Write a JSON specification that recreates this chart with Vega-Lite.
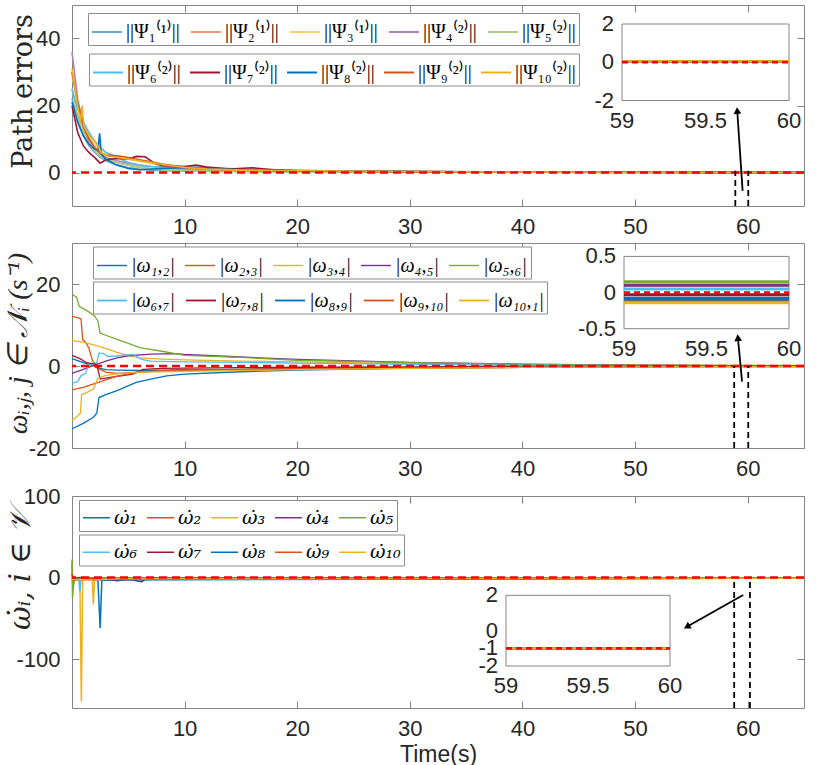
{
  "$schema": "https://vega.github.io/schema/vega-lite/v6.json",
  "background": "white",
  "padding": {"left": 3, "top": 4, "right": 5, "bottom": 0},
  "spacing": 4,
  "resolve": {"scale": {"color": "independent", "stroke": "independent"}, "legend": {"color": "independent", "stroke": "independent"}},
  "config": {
    "view": {"stroke": "#858585", "strokeWidth": 1},
    "axis": {"labelFont": "Liberation Sans", "labelFontSize": 22, "labelColor": "#262626", "tickColor": "#858585", "domain": false, "grid": false, "titleFont": "DejaVu Serif", "titleFontWeight": "normal", "titleColor": "#262626", "labelFlush": false, "labelOverlap": false},
    "text": {"font": "Liberation Sans", "fontSize": 22, "color": "#262626"},
    "legend": {"orient": "none", "columns": 5, "direction": "horizontal", "title": null, "symbolType": "stroke", "symbolSize": 900, "labelFont": "Liberation Serif", "labelFontSize": 20, "labelColor": "black", "labelOffset": 3, "columnPadding": 5, "rowPadding": 14, "padding": 3, "strokeColor": "#8c8c8c", "fillColor": "white"}
  },
  "datasets": {
    "A": [
      {"s":"||Ψ₁⁽¹⁾||","t":0,"v":22},{"s":"||Ψ₁⁽¹⁾||","t":0.5,"v":16},{"s":"||Ψ₁⁽¹⁾||","t":1,"v":11},{"s":"||Ψ₁⁽¹⁾||","t":1.5,"v":8},{"s":"||Ψ₁⁽¹⁾||","t":2,"v":6},{"s":"||Ψ₁⁽¹⁾||","t":2.5,"v":4.5},{"s":"||Ψ₁⁽¹⁾||","t":3,"v":3.5},{"s":"||Ψ₁⁽¹⁾||","t":4,"v":2.2},{"s":"||Ψ₁⁽¹⁾||","t":5,"v":1.5},{"s":"||Ψ₁⁽¹⁾||","t":6,"v":1.0},{"s":"||Ψ₁⁽¹⁾||","t":7,"v":0.7},{"s":"||Ψ₁⁽¹⁾||","t":8,"v":0.5},{"s":"||Ψ₁⁽¹⁾||","t":10,"v":0.4},{"s":"||Ψ₁⁽¹⁾||","t":12,"v":0.3},{"s":"||Ψ₁⁽¹⁾||","t":15,"v":0.25},{"s":"||Ψ₁⁽¹⁾||","t":20,"v":0.2},{"s":"||Ψ₁⁽¹⁾||","t":30,"v":0.1},{"s":"||Ψ₁⁽¹⁾||","t":40,"v":0.08},{"s":"||Ψ₁⁽¹⁾||","t":50,"v":0.05},{"s":"||Ψ₁⁽¹⁾||","t":59,"v":0.05},{"s":"||Ψ₁⁽¹⁾||","t":60,"v":0.05},{"s":"||Ψ₁⁽¹⁾||","t":65,"v":0.05},
      {"s":"||Ψ₂⁽¹⁾||","t":0,"v":30},{"s":"||Ψ₂⁽¹⁾||","t":0.5,"v":20},{"s":"||Ψ₂⁽¹⁾||","t":1,"v":13},{"s":"||Ψ₂⁽¹⁾||","t":1.5,"v":9},{"s":"||Ψ₂⁽¹⁾||","t":2,"v":6.5},{"s":"||Ψ₂⁽¹⁾||","t":2.5,"v":5},{"s":"||Ψ₂⁽¹⁾||","t":3,"v":4},{"s":"||Ψ₂⁽¹⁾||","t":4,"v":3},{"s":"||Ψ₂⁽¹⁾||","t":5,"v":2.2},{"s":"||Ψ₂⁽¹⁾||","t":6,"v":1.6},{"s":"||Ψ₂⁽¹⁾||","t":7,"v":1.2},{"s":"||Ψ₂⁽¹⁾||","t":8,"v":1.0},{"s":"||Ψ₂⁽¹⁾||","t":10,"v":0.8},{"s":"||Ψ₂⁽¹⁾||","t":12,"v":0.6},{"s":"||Ψ₂⁽¹⁾||","t":15,"v":0.5},{"s":"||Ψ₂⁽¹⁾||","t":20,"v":0.4},{"s":"||Ψ₂⁽¹⁾||","t":30,"v":0.25},{"s":"||Ψ₂⁽¹⁾||","t":40,"v":0.15},{"s":"||Ψ₂⁽¹⁾||","t":50,"v":0.08},{"s":"||Ψ₂⁽¹⁾||","t":59,"v":0.05},{"s":"||Ψ₂⁽¹⁾||","t":60,"v":0.05},{"s":"||Ψ₂⁽¹⁾||","t":65,"v":0.05},
      {"s":"||Ψ₃⁽¹⁾||","t":0,"v":29},{"s":"||Ψ₃⁽¹⁾||","t":0.5,"v":21},{"s":"||Ψ₃⁽¹⁾||","t":1,"v":15},{"s":"||Ψ₃⁽¹⁾||","t":1.5,"v":11},{"s":"||Ψ₃⁽¹⁾||","t":2,"v":8.5},{"s":"||Ψ₃⁽¹⁾||","t":2.5,"v":7},{"s":"||Ψ₃⁽¹⁾||","t":3,"v":6},{"s":"||Ψ₃⁽¹⁾||","t":4,"v":4.8},{"s":"||Ψ₃⁽¹⁾||","t":5,"v":4},{"s":"||Ψ₃⁽¹⁾||","t":6,"v":3.3},{"s":"||Ψ₃⁽¹⁾||","t":7,"v":2.6},{"s":"||Ψ₃⁽¹⁾||","t":8,"v":2.0},{"s":"||Ψ₃⁽¹⁾||","t":10,"v":1.3},{"s":"||Ψ₃⁽¹⁾||","t":12,"v":0.9},{"s":"||Ψ₃⁽¹⁾||","t":15,"v":0.6},{"s":"||Ψ₃⁽¹⁾||","t":20,"v":0.4},{"s":"||Ψ₃⁽¹⁾||","t":30,"v":0.25},{"s":"||Ψ₃⁽¹⁾||","t":40,"v":0.15},{"s":"||Ψ₃⁽¹⁾||","t":50,"v":0.08},{"s":"||Ψ₃⁽¹⁾||","t":59,"v":0.05},{"s":"||Ψ₃⁽¹⁾||","t":60,"v":0.05},{"s":"||Ψ₃⁽¹⁾||","t":65,"v":0.05},
      {"s":"||Ψ₄⁽²⁾||","t":0,"v":36},{"s":"||Ψ₄⁽²⁾||","t":0.5,"v":22},{"s":"||Ψ₄⁽²⁾||","t":1,"v":14},{"s":"||Ψ₄⁽²⁾||","t":1.5,"v":10},{"s":"||Ψ₄⁽²⁾||","t":2,"v":7.5},{"s":"||Ψ₄⁽²⁾||","t":2.5,"v":5.5},{"s":"||Ψ₄⁽²⁾||","t":3,"v":4.5},{"s":"||Ψ₄⁽²⁾||","t":4,"v":3.5},{"s":"||Ψ₄⁽²⁾||","t":5,"v":2.8},{"s":"||Ψ₄⁽²⁾||","t":6,"v":2.2},{"s":"||Ψ₄⁽²⁾||","t":7,"v":1.8},{"s":"||Ψ₄⁽²⁾||","t":8,"v":1.5},{"s":"||Ψ₄⁽²⁾||","t":10,"v":1.1},{"s":"||Ψ₄⁽²⁾||","t":12,"v":0.8},{"s":"||Ψ₄⁽²⁾||","t":15,"v":0.6},{"s":"||Ψ₄⁽²⁾||","t":20,"v":0.5},{"s":"||Ψ₄⁽²⁾||","t":30,"v":0.3},{"s":"||Ψ₄⁽²⁾||","t":40,"v":0.2},{"s":"||Ψ₄⁽²⁾||","t":50,"v":0.1},{"s":"||Ψ₄⁽²⁾||","t":59,"v":0.05},{"s":"||Ψ₄⁽²⁾||","t":60,"v":0.05},{"s":"||Ψ₄⁽²⁾||","t":65,"v":0.05},
      {"s":"||Ψ₅⁽²⁾||","t":0,"v":25},{"s":"||Ψ₅⁽²⁾||","t":0.5,"v":17},{"s":"||Ψ₅⁽²⁾||","t":1,"v":12},{"s":"||Ψ₅⁽²⁾||","t":1.5,"v":8.5},{"s":"||Ψ₅⁽²⁾||","t":2,"v":6.5},{"s":"||Ψ₅⁽²⁾||","t":2.5,"v":5},{"s":"||Ψ₅⁽²⁾||","t":3,"v":4},{"s":"||Ψ₅⁽²⁾||","t":4,"v":3},{"s":"||Ψ₅⁽²⁾||","t":5,"v":2.2},{"s":"||Ψ₅⁽²⁾||","t":6,"v":1.6},{"s":"||Ψ₅⁽²⁾||","t":7,"v":1.1},{"s":"||Ψ₅⁽²⁾||","t":8,"v":0.8},{"s":"||Ψ₅⁽²⁾||","t":10,"v":0.5},{"s":"||Ψ₅⁽²⁾||","t":12,"v":0.35},{"s":"||Ψ₅⁽²⁾||","t":15,"v":0.25},{"s":"||Ψ₅⁽²⁾||","t":20,"v":0.2},{"s":"||Ψ₅⁽²⁾||","t":30,"v":0.1},{"s":"||Ψ₅⁽²⁾||","t":40,"v":0.08},{"s":"||Ψ₅⁽²⁾||","t":50,"v":0.05},{"s":"||Ψ₅⁽²⁾||","t":59,"v":0.05},{"s":"||Ψ₅⁽²⁾||","t":60,"v":0.05},{"s":"||Ψ₅⁽²⁾||","t":65,"v":0.05},
      {"s":"||Ψ₆⁽²⁾||","t":0,"v":25},{"s":"||Ψ₆⁽²⁾||","t":0.5,"v":19},{"s":"||Ψ₆⁽²⁾||","t":1,"v":15},{"s":"||Ψ₆⁽²⁾||","t":1.5,"v":12},{"s":"||Ψ₆⁽²⁾||","t":2,"v":9.5},{"s":"||Ψ₆⁽²⁾||","t":2.5,"v":7.5},{"s":"||Ψ₆⁽²⁾||","t":3,"v":6},{"s":"||Ψ₆⁽²⁾||","t":4,"v":4.5},{"s":"||Ψ₆⁽²⁾||","t":5,"v":3},{"s":"||Ψ₆⁽²⁾||","t":6,"v":2.2},{"s":"||Ψ₆⁽²⁾||","t":7,"v":1.8},{"s":"||Ψ₆⁽²⁾||","t":8,"v":1.6},{"s":"||Ψ₆⁽²⁾||","t":10,"v":1.8},{"s":"||Ψ₆⁽²⁾||","t":12,"v":1.5},{"s":"||Ψ₆⁽²⁾||","t":15,"v":1.0},{"s":"||Ψ₆⁽²⁾||","t":20,"v":0.6},{"s":"||Ψ₆⁽²⁾||","t":30,"v":0.3},{"s":"||Ψ₆⁽²⁾||","t":40,"v":0.2},{"s":"||Ψ₆⁽²⁾||","t":50,"v":0.1},{"s":"||Ψ₆⁽²⁾||","t":59,"v":0.05},{"s":"||Ψ₆⁽²⁾||","t":60,"v":0.05},{"s":"||Ψ₆⁽²⁾||","t":65,"v":0.05},
      {"s":"||Ψ₇⁽²⁾||","t":0,"v":20},{"s":"||Ψ₇⁽²⁾||","t":0.5,"v":12},{"s":"||Ψ₇⁽²⁾||","t":1,"v":8},{"s":"||Ψ₇⁽²⁾||","t":1.5,"v":6},{"s":"||Ψ₇⁽²⁾||","t":2,"v":4.5},{"s":"||Ψ₇⁽²⁾||","t":2.5,"v":2.8},{"s":"||Ψ₇⁽²⁾||","t":3,"v":3.8},{"s":"||Ψ₇⁽²⁾||","t":4,"v":4.2},{"s":"||Ψ₇⁽²⁾||","t":5,"v":4.0},{"s":"||Ψ₇⁽²⁾||","t":5.7,"v":4.8},{"s":"||Ψ₇⁽²⁾||","t":6.5,"v":4.7},{"s":"||Ψ₇⁽²⁾||","t":7.3,"v":2.8},{"s":"||Ψ₇⁽²⁾||","t":8,"v":2.0},{"s":"||Ψ₇⁽²⁾||","t":10,"v":1.8},{"s":"||Ψ₇⁽²⁾||","t":11,"v":2.2},{"s":"||Ψ₇⁽²⁾||","t":12,"v":1.6},{"s":"||Ψ₇⁽²⁾||","t":14,"v":1.0},{"s":"||Ψ₇⁽²⁾||","t":16,"v":1.4},{"s":"||Ψ₇⁽²⁾||","t":18,"v":0.8},{"s":"||Ψ₇⁽²⁾||","t":20,"v":0.6},{"s":"||Ψ₇⁽²⁾||","t":30,"v":0.3},{"s":"||Ψ₇⁽²⁾||","t":40,"v":0.15},{"s":"||Ψ₇⁽²⁾||","t":50,"v":0.08},{"s":"||Ψ₇⁽²⁾||","t":59,"v":0.05},{"s":"||Ψ₇⁽²⁾||","t":60,"v":0.05},{"s":"||Ψ₇⁽²⁾||","t":65,"v":0.05},
      {"s":"||Ψ₈⁽²⁾||","t":0,"v":21},{"s":"||Ψ₈⁽²⁾||","t":0.5,"v":15},{"s":"||Ψ₈⁽²⁾||","t":1,"v":11},{"s":"||Ψ₈⁽²⁾||","t":1.5,"v":8.5},{"s":"||Ψ₈⁽²⁾||","t":2,"v":7},{"s":"||Ψ₈⁽²⁾||","t":2.3,"v":6.5},{"s":"||Ψ₈⁽²⁾||","t":2.45,"v":11.7},{"s":"||Ψ₈⁽²⁾||","t":2.6,"v":5.5},{"s":"||Ψ₈⁽²⁾||","t":3,"v":4},{"s":"||Ψ₈⁽²⁾||","t":4,"v":2.2},{"s":"||Ψ₈⁽²⁾||","t":5,"v":1.2},{"s":"||Ψ₈⁽²⁾||","t":6,"v":0.8},{"s":"||Ψ₈⁽²⁾||","t":8,"v":1.2},{"s":"||Ψ₈⁽²⁾||","t":10,"v":1.5},{"s":"||Ψ₈⁽²⁾||","t":12,"v":1.2},{"s":"||Ψ₈⁽²⁾||","t":15,"v":0.8},{"s":"||Ψ₈⁽²⁾||","t":20,"v":0.5},{"s":"||Ψ₈⁽²⁾||","t":30,"v":0.3},{"s":"||Ψ₈⁽²⁾||","t":40,"v":0.15},{"s":"||Ψ₈⁽²⁾||","t":50,"v":0.08},{"s":"||Ψ₈⁽²⁾||","t":59,"v":0.05},{"s":"||Ψ₈⁽²⁾||","t":60,"v":0.05},{"s":"||Ψ₈⁽²⁾||","t":65,"v":0.05},
      {"s":"||Ψ₉⁽²⁾||","t":0,"v":30},{"s":"||Ψ₉⁽²⁾||","t":0.5,"v":21},{"s":"||Ψ₉⁽²⁾||","t":1,"v":14},{"s":"||Ψ₉⁽²⁾||","t":1.5,"v":10},{"s":"||Ψ₉⁽²⁾||","t":2,"v":7.5},{"s":"||Ψ₉⁽²⁾||","t":2.5,"v":6},{"s":"||Ψ₉⁽²⁾||","t":3,"v":5.2},{"s":"||Ψ₉⁽²⁾||","t":4,"v":5},{"s":"||Ψ₉⁽²⁾||","t":5,"v":4.5},{"s":"||Ψ₉⁽²⁾||","t":6,"v":3.8},{"s":"||Ψ₉⁽²⁾||","t":7,"v":3.2},{"s":"||Ψ₉⁽²⁾||","t":8,"v":2.5},{"s":"||Ψ₉⁽²⁾||","t":10,"v":1.6},{"s":"||Ψ₉⁽²⁾||","t":12,"v":1.0},{"s":"||Ψ₉⁽²⁾||","t":15,"v":0.7},{"s":"||Ψ₉⁽²⁾||","t":20,"v":0.4},{"s":"||Ψ₉⁽²⁾||","t":30,"v":0.2},{"s":"||Ψ₉⁽²⁾||","t":40,"v":0.1},{"s":"||Ψ₉⁽²⁾||","t":50,"v":0.05},{"s":"||Ψ₉⁽²⁾||","t":59,"v":0.05},{"s":"||Ψ₉⁽²⁾||","t":60,"v":0.05},{"s":"||Ψ₉⁽²⁾||","t":65,"v":0.05},
      {"s":"||Ψ₁₀⁽²⁾||","t":0,"v":31},{"s":"||Ψ₁₀⁽²⁾||","t":0.5,"v":20},{"s":"||Ψ₁₀⁽²⁾||","t":0.75,"v":15},{"s":"||Ψ₁₀⁽²⁾||","t":0.9,"v":20},{"s":"||Ψ₁₀⁽²⁾||","t":1.05,"v":14},{"s":"||Ψ₁₀⁽²⁾||","t":1.5,"v":11},{"s":"||Ψ₁₀⁽²⁾||","t":2,"v":9.5},{"s":"||Ψ₁₀⁽²⁾||","t":2.3,"v":8},{"s":"||Ψ₁₀⁽²⁾||","t":2.6,"v":6},{"s":"||Ψ₁₀⁽²⁾||","t":3,"v":5},{"s":"||Ψ₁₀⁽²⁾||","t":4,"v":4.5},{"s":"||Ψ₁₀⁽²⁾||","t":5,"v":4},{"s":"||Ψ₁₀⁽²⁾||","t":6,"v":3.5},{"s":"||Ψ₁₀⁽²⁾||","t":7,"v":3},{"s":"||Ψ₁₀⁽²⁾||","t":8,"v":2.4},{"s":"||Ψ₁₀⁽²⁾||","t":10,"v":1.5},{"s":"||Ψ₁₀⁽²⁾||","t":12,"v":1.0},{"s":"||Ψ₁₀⁽²⁾||","t":15,"v":0.7},{"s":"||Ψ₁₀⁽²⁾||","t":20,"v":0.5},{"s":"||Ψ₁₀⁽²⁾||","t":30,"v":0.3},{"s":"||Ψ₁₀⁽²⁾||","t":40,"v":0.15},{"s":"||Ψ₁₀⁽²⁾||","t":50,"v":0.08},{"s":"||Ψ₁₀⁽²⁾||","t":59,"v":0.05},{"s":"||Ψ₁₀⁽²⁾||","t":60,"v":0.05},{"s":"||Ψ₁₀⁽²⁾||","t":65,"v":0.05}
    ],
    "B": [
      {"s":"|ω₁,₂|","t":0,"v":1.8},{"s":"|ω₁,₂|","t":0.5,"v":1.3},{"s":"|ω₁,₂|","t":1,"v":0.8},{"s":"|ω₁,₂|","t":1.5,"v":0.4},{"s":"|ω₁,₂|","t":2,"v":0},{"s":"|ω₁,₂|","t":2.5,"v":-0.6},{"s":"|ω₁,₂|","t":3,"v":-0.9},{"s":"|ω₁,₂|","t":4,"v":-1.0},{"s":"|ω₁,₂|","t":6,"v":-1.1},{"s":"|ω₁,₂|","t":8,"v":-1.0},{"s":"|ω₁,₂|","t":10,"v":-0.9},{"s":"|ω₁,₂|","t":15,"v":-0.8},{"s":"|ω₁,₂|","t":20,"v":-0.6},{"s":"|ω₁,₂|","t":30,"v":-0.4},{"s":"|ω₁,₂|","t":40,"v":-0.2},{"s":"|ω₁,₂|","t":50,"v":-0.1},{"s":"|ω₁,₂|","t":59,"v":-0.08},{"s":"|ω₁,₂|","t":60,"v":-0.08},{"s":"|ω₁,₂|","t":65,"v":-0.08},
      {"s":"|ω₂,₃|","t":0,"v":12.1},{"s":"|ω₂,₃|","t":0.5,"v":11.8},{"s":"|ω₂,₃|","t":0.8,"v":11.5},{"s":"|ω₂,₃|","t":0.95,"v":6.5},{"s":"|ω₂,₃|","t":1.2,"v":5.8},{"s":"|ω₂,₃|","t":1.5,"v":4.4},{"s":"|ω₂,₃|","t":1.8,"v":1.5},{"s":"|ω₂,₃|","t":2.1,"v":-0.3},{"s":"|ω₂,₃|","t":3,"v":-1.5},{"s":"|ω₂,₃|","t":4,"v":-1.8},{"s":"|ω₂,₃|","t":6,"v":-1.5},{"s":"|ω₂,₃|","t":8,"v":-1.2},{"s":"|ω₂,₃|","t":10,"v":-1.0},{"s":"|ω₂,₃|","t":15,"v":-0.8},{"s":"|ω₂,₃|","t":20,"v":-0.6},{"s":"|ω₂,₃|","t":30,"v":-0.4},{"s":"|ω₂,₃|","t":40,"v":-0.25},{"s":"|ω₂,₃|","t":50,"v":-0.15},{"s":"|ω₂,₃|","t":59,"v":-0.12},{"s":"|ω₂,₃|","t":60,"v":-0.12},{"s":"|ω₂,₃|","t":65,"v":-0.12},
      {"s":"|ω₃,₄|","t":0,"v":6.2},{"s":"|ω₃,₄|","t":1,"v":5.8},{"s":"|ω₃,₄|","t":2,"v":5.1},{"s":"|ω₃,₄|","t":3,"v":4.3},{"s":"|ω₃,₄|","t":4,"v":3.3},{"s":"|ω₃,₄|","t":5,"v":2.6},{"s":"|ω₃,₄|","t":6,"v":2.0},{"s":"|ω₃,₄|","t":8,"v":1.7},{"s":"|ω₃,₄|","t":10,"v":1.5},{"s":"|ω₃,₄|","t":15,"v":1.2},{"s":"|ω₃,₄|","t":20,"v":1.0},{"s":"|ω₃,₄|","t":30,"v":0.6},{"s":"|ω₃,₄|","t":40,"v":0.3},{"s":"|ω₃,₄|","t":50,"v":0.15},{"s":"|ω₃,₄|","t":59,"v":0.1},{"s":"|ω₃,₄|","t":60,"v":0.1},{"s":"|ω₃,₄|","t":65,"v":0.1},
      {"s":"|ω₄,₅|","t":0,"v":-1.8},{"s":"|ω₄,₅|","t":1,"v":-0.8},{"s":"|ω₄,₅|","t":2,"v":0.2},{"s":"|ω₄,₅|","t":3,"v":1.2},{"s":"|ω₄,₅|","t":4,"v":2.0},{"s":"|ω₄,₅|","t":5,"v":2.5},{"s":"|ω₄,₅|","t":7,"v":2.9},{"s":"|ω₄,₅|","t":9,"v":3.0},{"s":"|ω₄,₅|","t":10,"v":2.8},{"s":"|ω₄,₅|","t":15,"v":2.2},{"s":"|ω₄,₅|","t":20,"v":1.6},{"s":"|ω₄,₅|","t":30,"v":0.9},{"s":"|ω₄,₅|","t":40,"v":0.45},{"s":"|ω₄,₅|","t":50,"v":0.2},{"s":"|ω₄,₅|","t":59,"v":0.1},{"s":"|ω₄,₅|","t":60,"v":0.1},{"s":"|ω₄,₅|","t":65,"v":0.1},
      {"s":"|ω₅,₆|","t":0,"v":17.5},{"s":"|ω₅,₆|","t":0.4,"v":16.8},{"s":"|ω₅,₆|","t":0.65,"v":14.5},{"s":"|ω₅,₆|","t":1,"v":14.0},{"s":"|ω₅,₆|","t":1.5,"v":13.2},{"s":"|ω₅,₆|","t":2,"v":12.2},{"s":"|ω₅,₆|","t":2.3,"v":11.0},{"s":"|ω₅,₆|","t":2.5,"v":8.0},{"s":"|ω₅,₆|","t":3,"v":7.5},{"s":"|ω₅,₆|","t":4,"v":6.5},{"s":"|ω₅,₆|","t":5,"v":5.5},{"s":"|ω₅,₆|","t":6,"v":4.5},{"s":"|ω₅,₆|","t":8,"v":3.6},{"s":"|ω₅,₆|","t":10,"v":2.6},{"s":"|ω₅,₆|","t":15,"v":2.1},{"s":"|ω₅,₆|","t":20,"v":1.4},{"s":"|ω₅,₆|","t":30,"v":0.8},{"s":"|ω₅,₆|","t":40,"v":0.4},{"s":"|ω₅,₆|","t":50,"v":0.2},{"s":"|ω₅,₆|","t":59,"v":0.15},{"s":"|ω₅,₆|","t":60,"v":0.15},{"s":"|ω₅,₆|","t":65,"v":0.15},
      {"s":"|ω₆,₇|","t":0,"v":-4.2},{"s":"|ω₆,₇|","t":0.5,"v":-3.8},{"s":"|ω₆,₇|","t":0.8,"v":-2.4},{"s":"|ω₆,₇|","t":1.2,"v":-1.8},{"s":"|ω₆,₇|","t":1.5,"v":0.4},{"s":"|ω₆,₇|","t":2.2,"v":0.8},{"s":"|ω₆,₇|","t":2.4,"v":3.2},{"s":"|ω₆,₇|","t":2.8,"v":3.0},{"s":"|ω₆,₇|","t":3.2,"v":2.3},{"s":"|ω₆,₇|","t":4.2,"v":2.5},{"s":"|ω₆,₇|","t":5.4,"v":2.8},{"s":"|ω₆,₇|","t":6.2,"v":1.6},{"s":"|ω₆,₇|","t":7,"v":1.2},{"s":"|ω₆,₇|","t":10,"v":1.0},{"s":"|ω₆,₇|","t":15,"v":0.9},{"s":"|ω₆,₇|","t":20,"v":0.7},{"s":"|ω₆,₇|","t":30,"v":0.4},{"s":"|ω₆,₇|","t":40,"v":0.2},{"s":"|ω₆,₇|","t":50,"v":0.08},{"s":"|ω₆,₇|","t":59,"v":0.05},{"s":"|ω₆,₇|","t":60,"v":0.05},{"s":"|ω₆,₇|","t":65,"v":0.05},
      {"s":"|ω₇,₈|","t":0,"v":2.6},{"s":"|ω₇,₈|","t":0.7,"v":1.8},{"s":"|ω₇,₈|","t":1.3,"v":0.8},{"s":"|ω₇,₈|","t":2.2,"v":0.4},{"s":"|ω₇,₈|","t":2.5,"v":-3.2},{"s":"|ω₇,₈|","t":3.4,"v":-2.8},{"s":"|ω₇,₈|","t":5.4,"v":-2.0},{"s":"|ω₇,₈|","t":6.3,"v":-0.8},{"s":"|ω₇,₈|","t":8,"v":-0.6},{"s":"|ω₇,₈|","t":10,"v":-0.5},{"s":"|ω₇,₈|","t":15,"v":-0.4},{"s":"|ω₇,₈|","t":20,"v":-0.3},{"s":"|ω₇,₈|","t":30,"v":-0.2},{"s":"|ω₇,₈|","t":40,"v":-0.1},{"s":"|ω₇,₈|","t":50,"v":-0.05},{"s":"|ω₇,₈|","t":59,"v":-0.03},{"s":"|ω₇,₈|","t":60,"v":-0.03},{"s":"|ω₇,₈|","t":65,"v":-0.03},
      {"s":"|ω₈,₉|","t":0,"v":-15.3},{"s":"|ω₈,₉|","t":1,"v":-14},{"s":"|ω₈,₉|","t":1.9,"v":-12.5},{"s":"|ω₈,₉|","t":2.2,"v":-11.5},{"s":"|ω₈,₉|","t":2.4,"v":-7.7},{"s":"|ω₈,₉|","t":3,"v":-7},{"s":"|ω₈,₉|","t":4,"v":-6},{"s":"|ω₈,₉|","t":5.7,"v":-4},{"s":"|ω₈,₉|","t":7,"v":-3.2},{"s":"|ω₈,₉|","t":8.4,"v":-2.4},{"s":"|ω₈,₉|","t":10,"v":-2.0},{"s":"|ω₈,₉|","t":15,"v":-1.4},{"s":"|ω₈,₉|","t":20,"v":-1.0},{"s":"|ω₈,₉|","t":30,"v":-0.5},{"s":"|ω₈,₉|","t":40,"v":-0.3},{"s":"|ω₈,₉|","t":50,"v":-0.15},{"s":"|ω₈,₉|","t":59,"v":-0.1},{"s":"|ω₈,₉|","t":60,"v":-0.1},{"s":"|ω₈,₉|","t":65,"v":-0.1},
      {"s":"|ω₉,₁₀|","t":0,"v":-5.8},{"s":"|ω₉,₁₀|","t":1,"v":-5.2},{"s":"|ω₉,₁₀|","t":2,"v":-4.3},{"s":"|ω₉,₁₀|","t":3,"v":-3.4},{"s":"|ω₉,₁₀|","t":4,"v":-2.5},{"s":"|ω₉,₁₀|","t":5,"v":-1.9},{"s":"|ω₉,₁₀|","t":6,"v":-1.5},{"s":"|ω₉,₁₀|","t":8,"v":-1.2},{"s":"|ω₉,₁₀|","t":10,"v":-1.0},{"s":"|ω₉,₁₀|","t":15,"v":-0.9},{"s":"|ω₉,₁₀|","t":20,"v":-0.8},{"s":"|ω₉,₁₀|","t":30,"v":-0.6},{"s":"|ω₉,₁₀|","t":40,"v":-0.35},{"s":"|ω₉,₁₀|","t":50,"v":-0.2},{"s":"|ω₉,₁₀|","t":59,"v":-0.13},{"s":"|ω₉,₁₀|","t":60,"v":-0.13},{"s":"|ω₉,₁₀|","t":65,"v":-0.13},
      {"s":"|ω₁₀,₁|","t":0,"v":-13.3},{"s":"|ω₁₀,₁|","t":0.5,"v":-12.2},{"s":"|ω₁₀,₁|","t":0.75,"v":-11.5},{"s":"|ω₁₀,₁|","t":0.85,"v":-7},{"s":"|ω₁₀,₁|","t":1.3,"v":-6.5},{"s":"|ω₁₀,₁|","t":1.9,"v":-5.6},{"s":"|ω₁₀,₁|","t":2.3,"v":-3.0},{"s":"|ω₁₀,₁|","t":3,"v":-2.3},{"s":"|ω₁₀,₁|","t":4,"v":-1.9},{"s":"|ω₁₀,₁|","t":6,"v":-1.5},{"s":"|ω₁₀,₁|","t":8,"v":-1.4},{"s":"|ω₁₀,₁|","t":10,"v":-1.3},{"s":"|ω₁₀,₁|","t":15,"v":-1.1},{"s":"|ω₁₀,₁|","t":20,"v":-0.9},{"s":"|ω₁₀,₁|","t":30,"v":-0.6},{"s":"|ω₁₀,₁|","t":40,"v":-0.35},{"s":"|ω₁₀,₁|","t":50,"v":-0.2},{"s":"|ω₁₀,₁|","t":59,"v":-0.14},{"s":"|ω₁₀,₁|","t":60,"v":-0.14},{"s":"|ω₁₀,₁|","t":65,"v":-0.14}
    ],
    "C": [
      {"s":"ω̇₁","t":0,"v":5},{"s":"ω̇₁","t":0.15,"v":-3},{"s":"ω̇₁","t":0.5,"v":-1},{"s":"ω̇₁","t":2,"v":-2},{"s":"ω̇₁","t":4,"v":-1},{"s":"ω̇₁","t":59,"v":-1},{"s":"ω̇₁","t":60,"v":-1},{"s":"ω̇₁","t":65,"v":-1},
      {"s":"ω̇₂","t":0,"v":17},{"s":"ω̇₂","t":0.08,"v":-15},{"s":"ω̇₂","t":0.2,"v":-2},{"s":"ω̇₂","t":0.6,"v":0},{"s":"ω̇₂","t":2,"v":-1},{"s":"ω̇₂","t":59,"v":-1},{"s":"ω̇₂","t":60,"v":-1},{"s":"ω̇₂","t":65,"v":-1},
      {"s":"ω̇₃","t":0,"v":-3},{"s":"ω̇₃","t":0.7,"v":-3},{"s":"ω̇₃","t":0.83,"v":-152},{"s":"ω̇₃","t":0.95,"v":-3},{"s":"ω̇₃","t":1.5,"v":-2},{"s":"ω̇₃","t":59,"v":-1},{"s":"ω̇₃","t":60,"v":-1},{"s":"ω̇₃","t":65,"v":-1},
      {"s":"ω̇₄","t":0,"v":-3},{"s":"ω̇₄","t":0.5,"v":-2},{"s":"ω̇₄","t":3,"v":-3},{"s":"ω̇₄","t":5,"v":-2},{"s":"ω̇₄","t":59,"v":-1},{"s":"ω̇₄","t":60,"v":-1},{"s":"ω̇₄","t":65,"v":-1},
      {"s":"ω̇₅","t":0,"v":22},{"s":"ω̇₅","t":0.05,"v":-25},{"s":"ω̇₅","t":0.15,"v":-2},{"s":"ω̇₅","t":1,"v":-1},{"s":"ω̇₅","t":59,"v":-1},{"s":"ω̇₅","t":60,"v":-1},{"s":"ω̇₅","t":65,"v":-1},
      {"s":"ω̇₆","t":0,"v":0},{"s":"ω̇₆","t":0.6,"v":-2},{"s":"ω̇₆","t":0.7,"v":-17},{"s":"ω̇₆","t":0.8,"v":-2},{"s":"ω̇₆","t":10,"v":-1},{"s":"ω̇₆","t":59,"v":-1},{"s":"ω̇₆","t":60,"v":-1},{"s":"ω̇₆","t":65,"v":-1},
      {"s":"ω̇₇","t":0,"v":0},{"s":"ω̇₇","t":3,"v":-2},{"s":"ω̇₇","t":4,"v":-4},{"s":"ω̇₇","t":5,"v":-2},{"s":"ω̇₇","t":6.2,"v":-5},{"s":"ω̇₇","t":6.6,"v":-1},{"s":"ω̇₇","t":59,"v":-1},{"s":"ω̇₇","t":60,"v":-1},{"s":"ω̇₇","t":65,"v":-1},
      {"s":"ω̇₈","t":0,"v":0},{"s":"ω̇₈","t":2.3,"v":-3},{"s":"ω̇₈","t":2.5,"v":-62},{"s":"ω̇₈","t":2.65,"v":-3},{"s":"ω̇₈","t":59,"v":-1},{"s":"ω̇₈","t":60,"v":-1},{"s":"ω̇₈","t":65,"v":-1},
      {"s":"ω̇₉","t":0,"v":5},{"s":"ω̇₉","t":0.1,"v":-3},{"s":"ω̇₉","t":1,"v":-1},{"s":"ω̇₉","t":59,"v":-1},{"s":"ω̇₉","t":60,"v":-1},{"s":"ω̇₉","t":65,"v":-1},
      {"s":"ω̇₁₀","t":0,"v":-2},{"s":"ω̇₁₀","t":1.8,"v":-3},{"s":"ω̇₁₀","t":1.9,"v":-33},{"s":"ω̇₁₀","t":2.0,"v":-3},{"s":"ω̇₁₀","t":3,"v":-2},{"s":"ω̇₁₀","t":4,"v":-1.5},{"s":"ω̇₁₀","t":59,"v":-1},{"s":"ω̇₁₀","t":60,"v":-1},{"s":"ω̇₁₀","t":65,"v":-1}
    ]
  },
  "vconcat": [
    {
      "width": 732, "height": 201,
      "resolve": {"scale": {"x": "independent", "y": "independent", "color": "independent"}},
      "layer": [
        {
          "resolve": {"axis": {"x": "independent", "y": "independent"}},
          "layer": [
            {
              "data": {"name": "A"},
              "transform": [{"filter": {"field": "s", "oneOf": ["||Ψ₁⁽¹⁾||","||Ψ₂⁽¹⁾||","||Ψ₃⁽¹⁾||","||Ψ₄⁽²⁾||","||Ψ₅⁽²⁾||"]}}],
              "mark": {"type": "line", "strokeWidth": 1.6},
              "encoding": {
                "x": {"field": "t", "type": "quantitative", "scale": {"domain": [0, 65], "nice": false, "zero": false}, "axis": {"orient": "bottom", "values": [10, 20, 30, 40, 50, 60], "tickSize": -7, "labelPadding": 17, "title": null, "labelExpr": "''+datum.value"}},
                "y": {"field": "v", "type": "quantitative", "scale": {"domain": [-10, 50], "nice": false, "zero": false}, "axis": {"orient": "left", "values": [0, 20, 40], "tickSize": -7, "labelPadding": 19, "title": "Path errors", "titleFontSize": 27, "titleX": -41, "titleY": 86, "titleBaseline": "alphabetic", "labelExpr": "''+datum.value"}},
                "color": {"field": "s", "type": "nominal",
                  "scale": {"domain": ["||Ψ₁⁽¹⁾||","||Ψ₂⁽¹⁾||","||Ψ₃⁽¹⁾||","||Ψ₄⁽²⁾||","||Ψ₅⁽²⁾||"], "range": ["#66AAD7","#E89875","#F4D079","#B282BB","#ADCD83"]},
                  "legend": {"legendX": 16, "legendY": 8, "symbolStrokeWidth": 2, "columnPadding": 7}}
              }
            },
            {
              "data": {"name": "A"},
              "transform": [{"filter": {"field": "s", "oneOf": ["||Ψ₆⁽²⁾||","||Ψ₇⁽²⁾||","||Ψ₈⁽²⁾||","||Ψ₉⁽²⁾||","||Ψ₁₀⁽²⁾||"]}}],
              "mark": {"type": "line", "strokeWidth": 1.6},
              "encoding": {
                "x": {"field": "t", "type": "quantitative", "axis": null},
                "y": {"field": "v", "type": "quantitative", "axis": null},
                "stroke": {"field": "s", "type": "nominal",
                  "scale": {"domain": ["||Ψ₆⁽²⁾||","||Ψ₇⁽²⁾||","||Ψ₈⁽²⁾||","||Ψ₉⁽²⁾||","||Ψ₁₀⁽²⁾||"], "range": ["#4DBEEE","#A2142F","#0072BD","#D95319","#EDB120"]},
                  "legend": {"legendX": 17, "legendY": 48.5, "symbolStrokeWidth": 2, "columnPadding": 5}}
              }
            },
            {
              "data": {"values": [{}]},
              "mark": {"type": "rule", "color": "#FF0000", "strokeDash": [8, 5], "strokeWidth": 2.5},
              "encoding": {"y": {"datum": 0, "type": "quantitative", "axis": null}}
            },
            {
              "data": {"values": [{"t": 58.9, "y0": -10, "y1": 0.5}, {"t": 60.05, "y0": -10, "y1": 0.5}]},
              "mark": {"type": "rule", "color": "black", "strokeDash": [6, 4], "strokeWidth": 1.8},
              "encoding": {
                "x": {"field": "t", "type": "quantitative", "axis": {"orient": "top", "values": [10, 20, 30, 40, 50, 60], "tickSize": -7, "labels": false, "title": null}},
                "y": {"field": "y0", "type": "quantitative", "axis": {"orient": "right", "values": [0, 20, 40], "tickSize": -7, "labels": false, "title": null}},
                "y2": {"field": "y1"}
              }
            },
            {
              "data": {"values": [{"t": 59.55, "v": -5.5}, {"t": 59.07, "v": 18.5}]},
              "mark": {"type": "line", "color": "black", "strokeWidth": 1.8},
              "encoding": {"x": {"field": "t", "type": "quantitative", "axis": null}, "y": {"field": "v", "type": "quantitative", "axis": null}}
            },
            {
              "data": {"values": [{"t": 59.07, "v": 18.5}]},
              "mark": {"type": "point", "shape": "triangle-up", "filled": true, "color": "black", "opacity": 1, "size": 60, "angle": 356},
              "encoding": {"x": {"field": "t", "type": "quantitative", "axis": null}, "y": {"field": "v", "type": "quantitative", "axis": null}}
            }
          ]
        },
        {
          "layer": [
            {
              "data": {"values": [{"t0": 59, "t1": 60, "y0": -2, "y1": 2}]},
              "mark": {"type": "rect", "fill": "white", "stroke": "#858585", "strokeWidth": 1},
              "encoding": {
                "x": {"field": "t0", "type": "quantitative", "scale": {"domain": [59, 60], "range": [550, 717], "nice": false, "zero": false}, "axis": null},
                "x2": {"field": "t1"},
                "y": {"field": "y0", "type": "quantitative", "scale": {"domain": [-2, 2], "range": [95.5, 19], "nice": false, "zero": false}, "axis": null},
                "y2": {"field": "y1"}
              }
            },
            {
              "data": {"name": "A"},
              "transform": [{"filter": "datum.t >= 59 && datum.t <= 60"}],
              "mark": {"type": "line", "strokeWidth": 2},
              "encoding": {
                "x": {"field": "t", "type": "quantitative", "axis": null},
                "y": {"field": "v", "type": "quantitative", "axis": null},
                "color": {"field": "s", "type": "nominal", "legend": null,
                  "scale": {"domain": ["||Ψ₁⁽¹⁾||","||Ψ₂⁽¹⁾||","||Ψ₃⁽¹⁾||","||Ψ₄⁽²⁾||","||Ψ₅⁽²⁾||","||Ψ₆⁽²⁾||","||Ψ₇⁽²⁾||","||Ψ₈⁽²⁾||","||Ψ₉⁽²⁾||","||Ψ₁₀⁽²⁾||"], "range": ["#66AAD7","#E89875","#F4D079","#B282BB","#ADCD83","#4DBEEE","#A2142F","#0072BD","#D95319","#EDB120"]}}
              }
            },
            {
              "data": {"values": [{}]},
              "mark": {"type": "rule", "color": "#FF0000", "strokeDash": [6, 4], "strokeWidth": 2.5},
              "encoding": {"x": {"datum": 59, "type": "quantitative", "axis": null}, "x2": {"datum": 60}, "y": {"datum": 0, "type": "quantitative", "axis": null}}
            },
            {
              "data": {"values": [{"t": 59}, {"t": 59.5}, {"t": 60}]},
              "mark": {"type": "text", "baseline": "top", "dy": 10},
              "encoding": {"x": {"field": "t", "type": "quantitative", "axis": null}, "y": {"datum": -2, "type": "quantitative", "axis": null}, "text": {"field": "t", "type": "nominal"}}
            },
            {
              "data": {"values": [{"v": -2}, {"v": 0}, {"v": 2}]},
              "mark": {"type": "text", "align": "right", "baseline": "middle", "dx": -8},
              "encoding": {"x": {"datum": 59, "type": "quantitative", "axis": null}, "y": {"field": "v", "type": "quantitative", "axis": null}, "text": {"field": "v", "type": "nominal"}}
            }
          ]
        }
      ]
    },
    {
      "width": 732, "height": 205,
      "resolve": {"scale": {"x": "independent", "y": "independent", "color": "independent"}},
      "layer": [
        {
          "resolve": {"axis": {"x": "independent", "y": "independent"}},
          "layer": [
            {
              "data": {"name": "B"},
              "transform": [{"filter": {"field": "s", "oneOf": ["|ω₁,₂|","|ω₂,₃|","|ω₃,₄|","|ω₄,₅|","|ω₅,₆|"]}}],
              "mark": {"type": "line", "strokeWidth": 1.3},
              "encoding": {
                "x": {"field": "t", "type": "quantitative", "scale": {"domain": [0, 65], "nice": false, "zero": false}, "axis": {"orient": "bottom", "values": [10, 20, 30, 40, 50, 60], "tickSize": -7, "labelPadding": 17, "title": null, "labelExpr": "''+datum.value"}},
                "y": {"field": "v", "type": "quantitative", "scale": {"domain": [-20, 30], "nice": false, "zero": false}, "axis": {"orient": "left", "values": [-20, 0, 20], "tickSize": -7, "labelPadding": 19, "title": "ωᵢ,ⱼ, j ∈ 𝒩ᵢ (s⁻¹)", "titleFont": "Liberation Serif", "titleFontSize": 28, "titleFontStyle": "italic", "titleX": -46, "titleY": 100, "titleBaseline": "alphabetic", "labelExpr": "''+datum.value"}},
                "color": {"field": "s", "type": "nominal",
                  "scale": {"domain": ["|ω₁,₂|","|ω₂,₃|","|ω₃,₄|","|ω₄,₅|","|ω₅,₆|"], "range": ["#0072BD","#D95319","#EDB120","#7E2F8E","#77AC30"]},
                  "legend": {"legendX": 21, "legendY": 3.5, "symbolStrokeWidth": 1.4, "labelFontStyle": "italic", "columnPadding": 6}}
              }
            },
            {
              "data": {"name": "B"},
              "transform": [{"filter": {"field": "s", "oneOf": ["|ω₆,₇|","|ω₇,₈|","|ω₈,₉|","|ω₉,₁₀|","|ω₁₀,₁|"]}}],
              "mark": {"type": "line", "strokeWidth": 1.3},
              "encoding": {
                "x": {"field": "t", "type": "quantitative", "axis": null},
                "y": {"field": "v", "type": "quantitative", "axis": null},
                "stroke": {"field": "s", "type": "nominal",
                  "scale": {"domain": ["|ω₆,₇|","|ω₇,₈|","|ω₈,₉|","|ω₉,₁₀|","|ω₁₀,₁|"], "range": ["#4DBEEE","#A2142F","#0072BD","#D95319","#EDB120"]},
                  "legend": {"legendX": 21, "legendY": 38.5, "symbolStrokeWidth": 1.8, "labelFontStyle": "italic", "columnPadding": 6}}
              }
            },
            {
              "data": {"values": [{}]},
              "mark": {"type": "rule", "color": "#FF0000", "strokeDash": [8, 5], "strokeWidth": 2.5},
              "encoding": {"y": {"datum": 0, "type": "quantitative", "axis": null}}
            },
            {
              "data": {"values": [{"t": 58.8, "y0": -20, "y1": 0}, {"t": 60.05, "y0": -20, "y1": 0}]},
              "mark": {"type": "rule", "color": "black", "strokeDash": [6, 4], "strokeWidth": 1.8},
              "encoding": {
                "x": {"field": "t", "type": "quantitative", "axis": {"orient": "top", "values": [10, 20, 30, 40, 50, 60], "tickSize": -7, "labels": false, "title": null}},
                "y": {"field": "y0", "type": "quantitative", "axis": {"orient": "right", "values": [-20, 0, 20], "tickSize": -7, "labels": false, "title": null}},
                "y2": {"field": "y1"}
              }
            },
            {
              "data": {"values": [{"t": 59.5, "v": -3.8}, {"t": 59.13, "v": 6.9}]},
              "mark": {"type": "line", "color": "black", "strokeWidth": 1.8},
              "encoding": {"x": {"field": "t", "type": "quantitative", "axis": null}, "y": {"field": "v", "type": "quantitative", "axis": null}}
            },
            {
              "data": {"values": [{"t": 59.13, "v": 6.9}]},
              "mark": {"type": "point", "shape": "triangle-up", "filled": true, "color": "black", "opacity": 1, "size": 60, "angle": 355},
              "encoding": {"x": {"field": "t", "type": "quantitative", "axis": null}, "y": {"field": "v", "type": "quantitative", "axis": null}}
            }
          ]
        },
        {
          "layer": [
            {
              "data": {"values": [{"t0": 59, "t1": 60, "y0": -0.5, "y1": 0.5}]},
              "mark": {"type": "rect", "fill": "white", "stroke": "#858585", "strokeWidth": 1},
              "encoding": {
                "x": {"field": "t0", "type": "quantitative", "scale": {"domain": [59, 60], "range": [552, 717], "nice": false, "zero": false}, "axis": null},
                "x2": {"field": "t1"},
                "y": {"field": "y0", "type": "quantitative", "scale": {"domain": [-0.5, 0.5], "range": [85.7, 13.4], "nice": false, "zero": false}, "axis": null},
                "y2": {"field": "y1"}
              }
            },
            {
              "data": {"name": "B"},
              "transform": [{"filter": "datum.t >= 59 && datum.t <= 60"}],
              "mark": {"type": "line", "strokeWidth": 3},
              "encoding": {
                "x": {"field": "t", "type": "quantitative", "axis": null},
                "y": {"field": "v", "type": "quantitative", "axis": null},
                "color": {"field": "s", "type": "nominal", "legend": null,
                  "scale": {"domain": ["|ω₁,₂|","|ω₂,₃|","|ω₃,₄|","|ω₄,₅|","|ω₅,₆|","|ω₆,₇|","|ω₇,₈|","|ω₈,₉|","|ω₉,₁₀|","|ω₁₀,₁|"], "range": ["#0072BD","#D95319","#EDB120","#7E2F8E","#77AC30","#4DBEEE","#A2142F","#0072BD","#D95319","#EDB120"]}}
              }
            },
            {
              "data": {"values": [{}]},
              "mark": {"type": "rule", "color": "#FF0000", "strokeDash": [6, 4], "strokeWidth": 2.5},
              "encoding": {"x": {"datum": 59, "type": "quantitative", "axis": null}, "x2": {"datum": 60}, "y": {"datum": 0, "type": "quantitative", "axis": null}}
            },
            {
              "data": {"values": [{"t": 59}, {"t": 59.5}, {"t": 60}]},
              "mark": {"type": "text", "baseline": "top", "dy": 10},
              "encoding": {"x": {"field": "t", "type": "quantitative", "axis": null}, "y": {"datum": -0.5, "type": "quantitative", "axis": null}, "text": {"field": "t", "type": "nominal"}}
            },
            {
              "data": {"values": [{"v": -0.5}, {"v": 0}, {"v": 0.5}]},
              "mark": {"type": "text", "align": "right", "baseline": "middle", "dx": -8},
              "encoding": {"x": {"datum": 59, "type": "quantitative", "axis": null}, "y": {"field": "v", "type": "quantitative", "axis": null}, "text": {"field": "v", "type": "nominal"}}
            }
          ]
        }
      ]
    },
    {
      "width": 732, "height": 212,
      "resolve": {"scale": {"x": "independent", "y": "independent", "color": "independent"}},
      "layer": [
        {
          "resolve": {"axis": {"x": "independent", "y": "independent"}},
          "layer": [
            {
              "data": {"name": "C"},
              "transform": [{"filter": {"field": "s", "oneOf": ["ω̇₁","ω̇₂","ω̇₃","ω̇₄","ω̇₅"]}}],
              "mark": {"type": "line", "strokeWidth": 1.5},
              "encoding": {
                "x": {"field": "t", "type": "quantitative", "scale": {"domain": [0, 65], "nice": false, "zero": false}, "axis": {"orient": "bottom", "values": [10, 20, 30, 40, 50, 60], "tickSize": -7, "labelPadding": 17, "title": "Time(s)", "titleFont": "Liberation Sans", "titleFontSize": 23, "titlePadding": 4, "labelExpr": "''+datum.value"}},
                "y": {"field": "v", "type": "quantitative", "scale": {"domain": [-160, 100], "nice": false, "zero": false}, "axis": {"orient": "left", "values": [-100, 0, 100], "tickSize": -7, "labelPadding": 19, "title": "ω̇ᵢ, i ∈ 𝒱", "titleFontSize": 29, "titleFontStyle": "italic", "titleX": -43, "titleY": 73, "titleBaseline": "alphabetic", "labelExpr": "''+datum.value"}},
                "color": {"field": "s", "type": "nominal",
                  "scale": {"domain": ["ω̇₁","ω̇₂","ω̇₃","ω̇₄","ω̇₅"], "range": ["#0072BD","#D95319","#EDB120","#7E2F8E","#77AC30"]},
                  "legend": {"legendX": 7, "legendY": 4, "symbolStrokeWidth": 1.5, "symbolSize": 730, "labelFont": "DejaVu Serif", "labelFontSize": 19, "labelFontStyle": "italic", "columnPadding": 5}}
              }
            },
            {
              "data": {"name": "C"},
              "transform": [{"filter": {"field": "s", "oneOf": ["ω̇₆","ω̇₇","ω̇₈","ω̇₉","ω̇₁₀"]}}],
              "mark": {"type": "line", "strokeWidth": 1.5},
              "encoding": {
                "x": {"field": "t", "type": "quantitative", "axis": null},
                "y": {"field": "v", "type": "quantitative", "axis": null},
                "stroke": {"field": "s", "type": "nominal",
                  "scale": {"domain": ["ω̇₆","ω̇₇","ω̇₈","ω̇₉","ω̇₁₀"], "range": ["#4DBEEE","#A2142F","#0072BD","#D95319","#EDB120"]},
                  "legend": {"legendX": 7, "legendY": 38.5, "symbolStrokeWidth": 1.5, "symbolSize": 730, "labelFont": "DejaVu Serif", "labelFontSize": 19, "labelFontStyle": "italic", "columnPadding": 5}}
              }
            },
            {
              "data": {"values": [{}]},
              "mark": {"type": "rule", "color": "#FF0000", "strokeDash": [8, 5], "strokeWidth": 2.5},
              "encoding": {"y": {"datum": 0, "type": "quantitative", "axis": null}}
            },
            {
              "data": {"values": [{"t": 58.8, "y0": -160, "y1": 0}, {"t": 60.2, "y0": -160, "y1": 0}]},
              "mark": {"type": "rule", "color": "black", "strokeDash": [6, 4], "strokeWidth": 1.8},
              "encoding": {
                "x": {"field": "t", "type": "quantitative", "axis": {"orient": "top", "values": [10, 20, 30, 40, 50, 60], "tickSize": -7, "labels": false, "title": null}},
                "y": {"field": "y0", "type": "quantitative", "axis": {"orient": "right", "values": [-100, 0, 100], "tickSize": -7, "labels": false, "title": null}},
                "y2": {"field": "y1"}
              }
            },
            {
              "data": {"values": [{"t": 59.6, "v": -21.4}, {"t": 54.6, "v": -60.4}]},
              "mark": {"type": "line", "color": "black", "strokeWidth": 1.8},
              "encoding": {"x": {"field": "t", "type": "quantitative", "axis": null}, "y": {"field": "v", "type": "quantitative", "axis": null}}
            },
            {
              "data": {"values": [{"t": 54.6, "v": -60.4}]},
              "mark": {"type": "point", "shape": "triangle-up", "filled": true, "color": "black", "opacity": 1, "size": 60, "angle": 240},
              "encoding": {"x": {"field": "t", "type": "quantitative", "axis": null}, "y": {"field": "v", "type": "quantitative", "axis": null}}
            }
          ]
        },
        {
          "layer": [
            {
              "data": {"values": [{"t0": 59, "t1": 60, "y0": -2, "y1": 2}]},
              "mark": {"type": "rect", "fill": "white", "stroke": "#858585", "strokeWidth": 1},
              "encoding": {
                "x": {"field": "t0", "type": "quantitative", "scale": {"domain": [59, 60], "range": [434, 598], "nice": false, "zero": false}, "axis": null},
                "x2": {"field": "t1"},
                "y": {"field": "y0", "type": "quantitative", "scale": {"domain": [-2, 2], "range": [170, 99.3], "nice": false, "zero": false}, "axis": null},
                "y2": {"field": "y1"}
              }
            },
            {
              "data": {"name": "C"},
              "transform": [{"filter": "datum.t >= 59 && datum.t <= 60"}],
              "mark": {"type": "line", "strokeWidth": 2},
              "encoding": {
                "x": {"field": "t", "type": "quantitative", "axis": null},
                "y": {"field": "v", "type": "quantitative", "axis": null},
                "color": {"field": "s", "type": "nominal", "legend": null,
                  "scale": {"domain": ["ω̇₁","ω̇₂","ω̇₃","ω̇₄","ω̇₅","ω̇₆","ω̇₇","ω̇₈","ω̇₉","ω̇₁₀"], "range": ["#0072BD","#D95319","#EDB120","#7E2F8E","#77AC30","#4DBEEE","#A2142F","#0072BD","#D95319","#EDB120"]}}
              }
            },
            {
              "data": {"values": [{}]},
              "mark": {"type": "rule", "color": "#FF0000", "strokeDash": [6, 4], "strokeWidth": 2.5},
              "encoding": {"x": {"datum": 59, "type": "quantitative", "axis": null}, "x2": {"datum": 60}, "y": {"datum": -1, "type": "quantitative", "axis": null}}
            },
            {
              "data": {"values": [{"t": 59}, {"t": 59.5}, {"t": 60}]},
              "mark": {"type": "text", "baseline": "top", "dy": 10},
              "encoding": {"x": {"field": "t", "type": "quantitative", "axis": null}, "y": {"datum": -2, "type": "quantitative", "axis": null}, "text": {"field": "t", "type": "nominal"}}
            },
            {
              "data": {"values": [{"v": -2}, {"v": -1}, {"v": 0}, {"v": 2}]},
              "mark": {"type": "text", "align": "right", "baseline": "middle", "dx": -8},
              "encoding": {"x": {"datum": 59, "type": "quantitative", "axis": null}, "y": {"field": "v", "type": "quantitative", "axis": null}, "text": {"field": "v", "type": "nominal"}}
            }
          ]
        }
      ]
    }
  ]
}
